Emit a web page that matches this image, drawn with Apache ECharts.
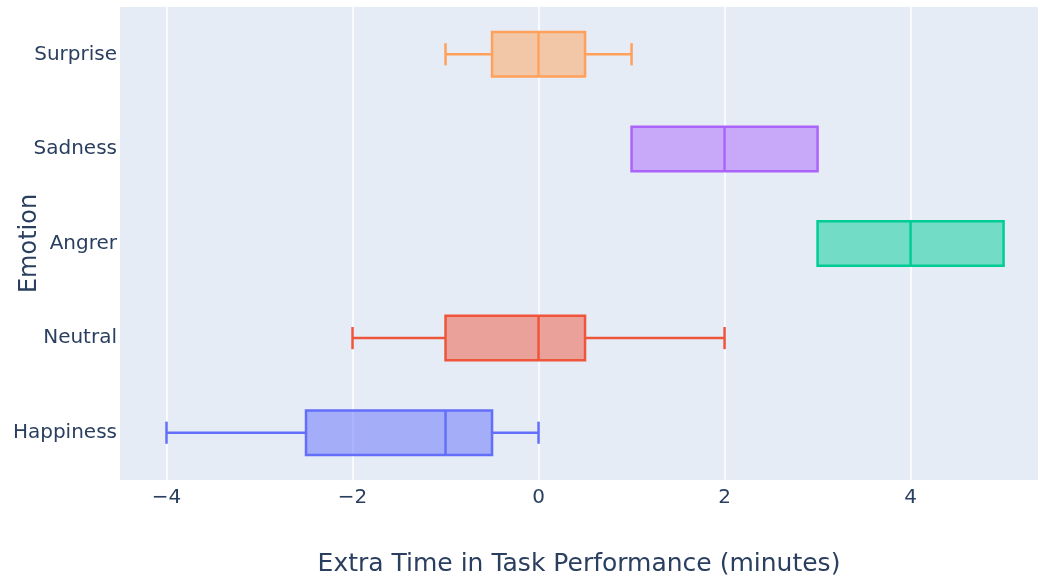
<!DOCTYPE html>
<html>
<head>
<meta charset="utf-8">
<script src="https://cdn.jsdelivr.net/npm/echarts@6/dist/echarts.min.js"></script>
<style>html,body{margin:0;padding:0;background:#fff}#c{width:1038px;height:578px}</style>
</head>
<body>
<div id="c"></div>
<script>
const categories = ['Happiness', 'Neutral', 'Angrer', 'Sadness', 'Surprise'];
const mins    = [-4,   -2, 3, 1, -1];
const q1s     = [-2.5, -1, 3, 1, -0.5];
const medians = [-1,    0, 4, 2, 0];
const q3s     = [-0.5, 0.5, 5, 3, 0.5];
const maxs    = [0,     2, 5, 3, 1];
const colors  = ['#636efa', '#EF553B', '#00cc96', '#ab63fa', '#FFA15A'];
const xTicks  = [-4, -2, 0, 2, 4];

const font = '"DejaVu Sans", Verdana, sans-serif';
const textColor = '#2a3f5f';

const data = categories.map((c, i) => [i, mins[i], q1s[i], medians[i], q3s[i], maxs[i]]);

function hexToRgba(hex, a) {
  const n = parseInt(hex.slice(1), 16);
  return 'rgba(' + ((n >> 16) & 255) + ',' + ((n >> 8) & 255) + ',' + (n & 255) + ',' + a + ')';
}

const chart = echarts.init(document.getElementById('c'), null, {renderer: 'canvas'});
chart.setOption({
  animation: false,
  backgroundColor: '#ffffff',
  grid: {left: 120, right: 0, top: 7, bottom: 98, containLabel: false, outerBoundsMode: 'none',
         show: true, backgroundColor: '#E5ECF6', borderWidth: 0},
  xAxis: {
    type: 'value', min: -4.5, max: 5.37,
    name: 'Extra Time in Task Performance (minutes)',
    nameLocation: 'middle', nameGap: 72, nameMoveOverlap: false,
    nameTextStyle: {fontFamily: font, fontSize: 25, color: textColor},
    axisLine: {show: false}, axisTick: {show: false, customValues: xTicks},
    axisLabel: {customValues: xTicks, fontFamily: font, fontSize: 20, color: textColor, margin: 8,
                formatter: v => String(v).replace('-', '\u2212')},
    splitLine: {show: true, lineStyle: {color: '#ffffff', width: 1.5}}
  },
  yAxis: {
    type: 'category', data: categories,
    name: 'Emotion', nameLocation: 'middle', nameGap: 78, nameMoveOverlap: false,
    nameTextStyle: {fontFamily: font, fontSize: 24, color: textColor},
    axisLine: {show: false}, axisTick: {show: false},
    axisLabel: {fontFamily: font, fontSize: 20, color: textColor, margin: 3},
    splitLine: {show: false}
  },
  series: [{
    type: 'custom',
    data: data,
    encode: {y: 0, x: [1, 2, 3, 4, 5]},
    renderItem: function (params, api) {
      const i = api.value(0);
      const band = api.size([0, 1])[1];
      const c = api.coord([0, i]);
      const cy = c[1];
      const half = band * 0.235;
      const capHalf = band * 0.117;
      const xMin = api.coord([api.value(1), i])[0];
      const xQ1 = api.coord([api.value(2), i])[0];
      const xMed = api.coord([api.value(3), i])[0];
      const xQ3 = api.coord([api.value(4), i])[0];
      const xMax = api.coord([api.value(5), i])[0];
      const col = colors[i];
      const ls = {stroke: col, lineWidth: 2.5, fill: null};
      const children = [];
      if (xMin < xQ1 - 0.5) {
        children.push({type: 'line', shape: {x1: xMin, y1: cy, x2: xQ1, y2: cy}, style: ls});
        children.push({type: 'line', shape: {x1: xMin, y1: cy - capHalf, x2: xMin, y2: cy + capHalf}, style: ls});
      }
      if (xMax > xQ3 + 0.5) {
        children.push({type: 'line', shape: {x1: xQ3, y1: cy, x2: xMax, y2: cy}, style: ls});
        children.push({type: 'line', shape: {x1: xMax, y1: cy - capHalf, x2: xMax, y2: cy + capHalf}, style: ls});
      }
      children.push({type: 'rect', shape: {x: xQ1, y: cy - half, width: xQ3 - xQ1, height: 2 * half},
                     style: {fill: hexToRgba(col, 0.5), stroke: col, lineWidth: 2.5}});
      children.push({type: 'line', shape: {x1: xMed, y1: cy - half, x2: xMed, y2: cy + half}, style: ls});
      return {type: 'group', children: children};
    }
  }]
});
</script>
</body>
</html>
